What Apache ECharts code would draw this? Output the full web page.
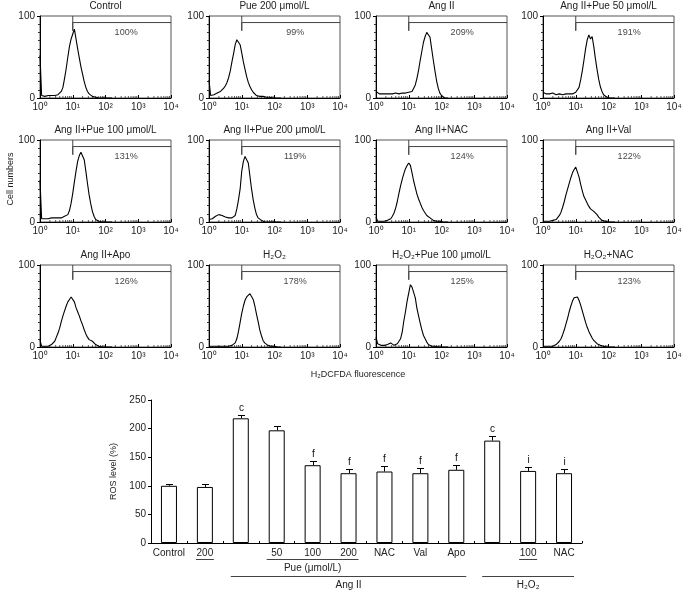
<!DOCTYPE html>
<html>
<head>
<meta charset="utf-8">
<script src="https://cdn.jsdelivr.net/npm/echarts@6/dist/echarts.min.js"></script>
<style>
html,body{margin:0;padding:0;background:#fff;}
#chart{width:685px;height:592px;}
</style>
</head>
<body>
<div id="chart"></div>
<script>
// ---------- Flow cytometry histograms (x in log10 fluorescence units) ----------
const logGrid = [0,0.05,0.1,0.15,0.2,0.25,0.3,0.35,0.4,0.45,0.5,0.55,0.6,0.65,0.7,0.75,0.8,0.85,0.9,0.95,
  1.0,1.05,1.1,1.15,1.2,1.25,1.3,1.35,1.4,1.45,1.5,1.55,1.6,1.65,1.7,1.75,1.8,1.85,1.9,1.95,2.0,2.05,2.1,2.15,2.2];

const panelTitles = ['Control','Pue 200 μmol/L','Ang II','Ang II+Pue 50 μmol/L',
  'Ang II+Pue 100 μmol/L','Ang II+Pue 200 μmol/L','Ang II+NAC','Ang II+Val',
  'Ang II+Apo','H₂O₂','H₂O₂+Pue 100 μmol/L','H₂O₂+NAC'];
const panelPercents = ['100%','99%','209%','191%','131%','119%','124%','122%','126%','178%','125%','123%'];

const histControl = [52,3,3,2,3,3,2,3,3,3,4,4,5,8,13,24,36,50,63,72,78,84,72,60,49,38,29,20,13,8,5,3,2,1,1,0,0,0,0,0,0,0,0,0,0];
const histPue200 = [22,3,3,4,5,6,7,8,10,12,15,19,25,33,44,54,65,71,71,65,55,44,35,26,19,14,10,7,5,3,3,2,2,2,1,1,1,1,1,0,0,0,0,0,0];
const histAng = [8,6,5,6,5,6,5,4,5,6,5,5,6,6,5,6,6,6,6,7,7,7,8,10,16,24,34,46,57,68,75,80,81,74,60,46,33,21,12,6,3,1,0,0,0];
const histAngPue50 = [7,6,5,6,5,5,6,5,4,5,5,5,4,5,5,4,5,5,5,6,7,9,13,22,33,46,60,71,77,72,75,63,48,35,23,14,8,4,2,1,1,0,0,0,0];
const histAngPue100 = [51,4,3,4,5,4,5,5,6,5,6,5,6,5,6,7,8,9,14,23,35,49,62,74,81,85,84,76,62,47,33,22,13,7,3,2,1,0,0,0,0,0,0,0,0];
const histAngPue200 = [3,3,4,5,7,9,9,9,8,7,6,5,5,4,5,5,8,16,27,40,62,74,80,82,72,56,40,27,17,9,5,3,2,1,0,0,0,0,0,0,0,0,0,0,0];
const histAngNAC = [6,1,1,1,1,1,2,2,3,4,7,11,17,25,35,44,52,59,65,69,72,69,60,50,42,34,28,23,18,14,11,8,6,5,3,2,2,1,1,1,0,0,0,0,0];
const histAngVal = [1,1,1,1,1,1,2,2,3,5,8,12,18,25,33,40,47,54,60,64,67,66,55,46,38,31,27,23,19,16,15,13,12,9,6,4,2,1,1,0,0,0,0,0,0];
const histAngApo = [8,1,1,1,1,1,2,3,4,7,12,17,23,31,38,44,50,55,58,61,60,55,48,43,38,32,27,21,16,12,9,8,7,5,3,2,1,1,0,0,0,0,0,0,0];
const histH2O2 = [1,1,1,1,1,1,1,1,1,1,1,1,1,2,2,3,5,10,19,30,41,50,57,61,63,65,63,58,50,40,31,21,14,8,5,3,2,1,1,1,1,0,0,0,0];
const histH2O2Pue = [12,4,3,2,2,2,2,3,3,5,3,2,3,4,6,10,18,32,43,56,66,76,73,71,60,47,38,29,21,14,10,6,3,2,1,1,1,0,0,0,0,0,0,0,0];
const histH2O2NAC = [1,1,1,1,1,1,1,2,3,4,7,10,15,21,28,35,43,50,56,60,61,61,57,51,44,37,30,24,19,15,11,8,6,4,3,2,1,1,1,0,0,0,0,0,0];
const histograms = [histControl,histPue200,histAng,histAngPue50,histAngPue100,histAngPue200,
  histAngNAC,histAngVal,histAngApo,histH2O2,histH2O2Pue,histH2O2NAC];

const xTickLabels = ['10⁰','10¹','10²','10³','10⁴'];
const gateX = 1.0, gateLow = 82, gateBar = 92, pctX = 2.63, pctY = 80;

// ---------- ROS bar chart ----------
const barCategories = ['Control','200','','50','100','200','NAC','Val','Apo','','100','NAC'];
const barMeans = [100,98,218,197,136,122,125,122,128,179,126,122];
const barUpper = [104,103,223,205,144,129,134,131,137,187,132,130];
const barLetters = ['','','c','','f','f','f','f','f','c','i','i'];
const underlined = [1,10];
const groupLabels = ['Pue (μmol/L)','Ang II','H₂O₂'];
const groupFrom = [3,2,9];
const groupTo = [5,8,11];
const groupLevel = [1,2,2];

// ---------- layout ----------
const FONT = '"Liberation Sans", Arial, sans-serif';
const colLefts = [40,209,376,543];
const rowTops = [16,140,265];
const PW = 131, PH = 82;

const chart = echarts.init(document.getElementById('chart'), null, {renderer:'canvas'});

const grids = [], xAxes = [], yAxes = [], series = [], graphics = [];
const minorLogTicks = [];
for (let d = 0; d < 4; d++) for (let k = 2; k <= 9; k++) minorLogTicks.push(d + Math.log10(k));

for (let p = 0; p < 12; p++) {
  const left = colLefts[p % 4], top = rowTops[Math.floor(p / 4)];
  grids.push({left:left, top:top, width:PW, height:PH, show:true, borderColor:'#555', borderWidth:1, backgroundColor:'transparent'});
  xAxes.push({
    gridIndex:p, type:'value', min:0, max:4, interval:1,
    axisLine:{show:true, onZero:false, lineStyle:{color:'#000', width:1}},
    axisTick:{show:true, inside:true, length:3, lineStyle:{color:'#000'}},
    axisLabel:{show:true, fontSize:10, fontFamily:FONT, color:'#222', margin:4, formatter:v => xTickLabels[Math.round(v)]},
    splitLine:{show:false}
  });
  yAxes.push({
    gridIndex:p, type:'value', min:0, max:100, interval:100,
    axisLine:{show:true, lineStyle:{color:'#000', width:1}},
    axisTick:{show:true, length:3, lineStyle:{color:'#000'}},
    minorTick:{show:true, splitNumber:10, length:2, lineStyle:{color:'#333'}},
    axisLabel:{show:true, fontSize:10, fontFamily:FONT, color:'#222', margin:5},
    splitLine:{show:false}
  });
  series.push({
    type:'line', xAxisIndex:p, yAxisIndex:p, symbol:'none', silent:true,
    data: logGrid.map((x,i) => [x, histograms[p][i]]),
    lineStyle:{color:'#000', width:1.1}, animation:false, z:3
  });
  series.push({
    type:'line', xAxisIndex:p, yAxisIndex:p, symbol:'none', silent:true,
    data:[[gateX,100],[gateX,gateLow],[gateX,gateBar],[4,gateBar]],
    lineStyle:{color:'#444', width:1}, animation:false, z:2
  });
  series.push({
    type:'scatter', xAxisIndex:p, yAxisIndex:p, symbolSize:0, silent:true,
    data:[[pctX,pctY]],
    label:{show:true, position:'inside', formatter:panelPercents[p], fontSize:9, fontFamily:FONT, color:'#111'},
    animation:false
  });
  series.push({
    type:'scatter', xAxisIndex:p, yAxisIndex:p, symbol:'rect', symbolSize:[1,2], symbolOffset:[0,-1], silent:true,
    data: minorLogTicks.map(v => [v, 0]),
    itemStyle:{color:'#333'}, animation:false
  });
  graphics.push({
    type:'text', x:left + PW/2, y:top - 9.5,
    style:{text:panelTitles[p], fontSize:10, fontFamily:FONT, fill:'#222', align:'center', verticalAlign:'middle'}
  });
}

// bar chart grid
const B = 12;
grids.push({left:151, top:400, width:431, height:143});
xAxes.push({
  gridIndex:B, type:'category', data:barCategories,
  axisLine:{show:true, lineStyle:{color:'#000', width:1}},
  axisTick:{show:true, inside:true, length:2, alignWithLabel:false, lineStyle:{color:'#000'}},
  axisLabel:{show:true, interval:0, fontSize:10, fontFamily:FONT, color:'#222', margin:5},
  splitLine:{show:false}
});
yAxes.push({
  gridIndex:B, type:'value', min:0, max:250, interval:50,
  name:'ROS level (%)', nameLocation:'middle', nameGap:30,
  nameTextStyle:{fontSize:9, fontFamily:FONT, color:'#222'},
  axisLine:{show:true, lineStyle:{color:'#000', width:1}},
  axisTick:{show:true, length:3, lineStyle:{color:'#000'}},
  axisLabel:{fontSize:10, fontFamily:FONT, color:'#222', margin:5},
  splitLine:{show:false}
});
series.push({
  type:'bar', xAxisIndex:B, yAxisIndex:B, data:barMeans, barWidth:16,
  itemStyle:{color:'#fff', borderColor:'#000', borderWidth:1}, animation:false, z:2
});
series.push({
  type:'custom', xAxisIndex:B, yAxisIndex:B, animation:false, z:3,
  data: barMeans.map((m,i) => [i, m, barUpper[i]]),
  renderItem:(params, api) => {
    const i = api.value(0);
    const b = api.coord([i, api.value(1)]);
    const t = api.coord([i, api.value(2)]);
    const x = Math.round(b[0]) + 0.5;
    const ty = Math.round(t[1]) + 0.5;
    const children = [
      {type:'line', shape:{x1:x, y1:b[1], x2:x, y2:ty}, style:{stroke:'#000', lineWidth:1}},
      {type:'line', shape:{x1:x-3.5, y1:ty, x2:x+3.5, y2:ty}, style:{stroke:'#000', lineWidth:1}}
    ];
    const letter = barLetters[params.dataIndex];
    if (letter) children.push({type:'text', style:{text:letter, x:x, y:ty-2, align:'center', verticalAlign:'bottom', fontSize:10, fontFamily:FONT, fill:'#111'}});
    return {type:'group', children:children};
  }
});

// shared axis titles of the histogram block
graphics.push({type:'text', x:11, y:179, rotation:Math.PI/2,
  style:{text:'Cell numbers', fontSize:9, fontFamily:FONT, fill:'#222', align:'center', verticalAlign:'middle'}});
graphics.push({type:'text', x:358, y:375,
  style:{text:'H₂DCFDA fluorescence', fontSize:9, fontFamily:FONT, fill:'#222', align:'center', verticalAlign:'middle'}});

chart.setOption({
  animation:false,
  grid:grids, xAxis:xAxes, yAxis:yAxes, series:series
});

// annotations under the bar chart, positioned from the category axis
const cx = i => chart.convertToPixel({gridIndex:B}, [i, 0]);
const y0 = cx(0)[1];
underlined.forEach(i => {
  const c = cx(i)[0];
  graphics.push({type:'line', shape:{x1:c-9, y1:y0+16.5, x2:c+9, y2:y0+16.5}, style:{stroke:'#444', lineWidth:1}});
});
groupLabels.forEach((lab, g) => {
  const a = cx(groupFrom[g])[0] - 10, b = cx(groupTo[g])[0] + 10;
  const ly = groupLevel[g] === 1 ? y0 + 16.5 : y0 + 33.5;
  graphics.push({type:'line', shape:{x1:a, y1:ly, x2:b, y2:ly}, style:{stroke:'#444', lineWidth:1}});
  graphics.push({type:'text', x:(a+b)/2, y:ly + 9,
    style:{text:lab, fontSize:10, fontFamily:FONT, fill:'#222', align:'center', verticalAlign:'middle'}});
});

chart.setOption({graphic:graphics});
</script>
</body>
</html>
